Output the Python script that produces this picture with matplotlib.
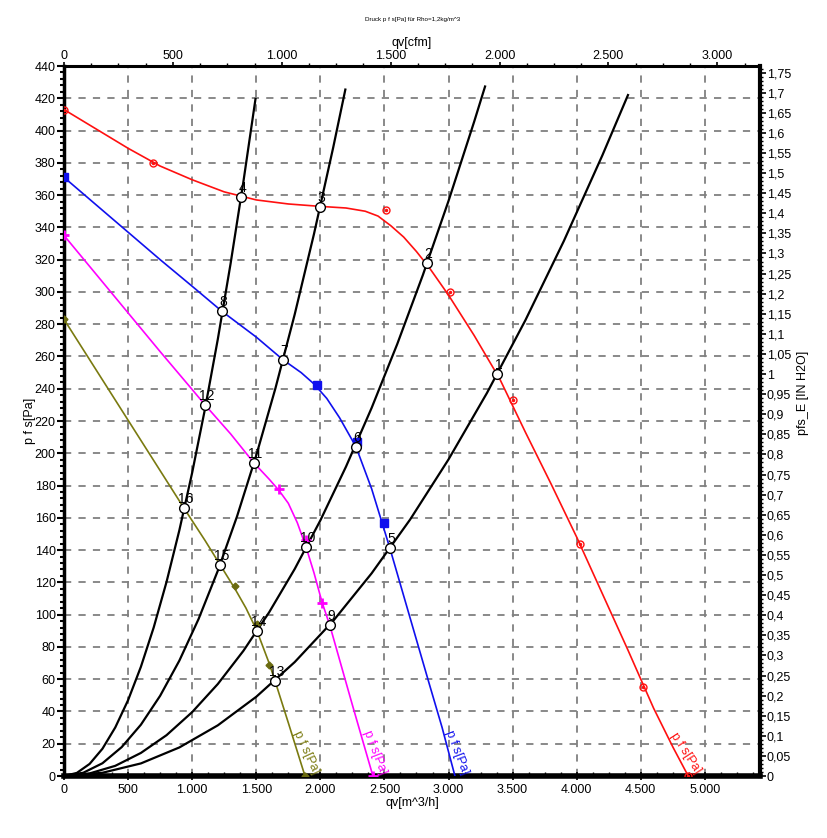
import numpy as np
import matplotlib
matplotlib.use("Agg")
import matplotlib.pyplot as plt
from matplotlib.ticker import MultipleLocator, FuncFormatter

plt.rcParams['font.family'] = ['Liberation Sans', 'DejaVu Sans']

# ---------------- data ----------------
# fan curves p_fs [Pa] vs qv [m^3/h]
red_x = [0, 250, 500, 750, 1000, 1250, 1500, 1750, 2000, 2200, 2350, 2450, 2550, 2650,
         2750, 2850, 3000, 3200, 3400, 3600, 3800, 4000, 4200, 4400, 4600, 4750, 4870]
red_y = [413, 401, 389, 378, 369.5, 362, 357, 354.5, 353, 352, 350, 347, 341, 334,
         325, 315, 298, 273, 246, 213, 181, 148, 113, 78, 42, 18, 0]
blue_x = [0, 250, 500, 750, 1000, 1232, 1500, 1708, 1850, 1950, 2050, 2150, 2278, 2400,
          2543, 2700, 2850, 2950, 3050]
blue_y = [371, 354, 337, 320, 303.5, 288, 272, 258, 250, 243, 234, 222, 204, 178,
          141, 98, 57, 30, 0]
mag_x = [0, 250, 500, 750, 1000, 1100, 1300, 1482, 1600, 1677, 1750, 1820, 1888, 1950,
         2012, 2075, 2150, 2250, 2330, 2410]
mag_y = [335, 311, 287, 263, 239.5, 230, 212, 194, 184, 177, 169, 157, 142, 126,
         108, 93, 72, 44, 22, 0]
oli_x = [0, 300, 600, 936, 1100, 1217, 1334, 1420, 1505, 1600, 1646, 1750, 1880]
oli_y = [283, 245.5, 208, 166, 146, 131, 116, 104, 90, 70, 59, 33, 0]

# measured points on the fan curves
red_mk_x = [0, 694, 1390, 2512, 3011, 3502, 4025, 4516, 4870]
red_mk_y = [413, 380, 359, 351, 300, 233, 144, 55, 0]
blue_mk_x = [0, 1973, 2285, 2496]
blue_mk_y = [371, 242, 207, 157]
mag_mk_x = [0, 1677, 1888, 2012, 2410]
mag_mk_y = [335, 178, 146, 107, 0]
oli_mk_x = [0, 1334, 1505, 1599, 1880]
oli_mk_y = [283, 118, 94, 69, 0]

# system curves (black)
sysA_x = [0, 100, 200, 300, 400, 500, 600, 700, 800, 900, 1000, 1100, 1200, 1300, 1400, 1494]
sysA_y = [0, 1.9, 7.5, 16.9, 30.1, 47.0, 67.7, 92.1, 120.3, 152.3, 188.0, 227.5, 270.7,
          317.7, 368.5, 419.6]
sysB_x = [0, 150, 300, 450, 600, 750, 900, 1050, 1200, 1350, 1500, 1650, 1800, 1950,
          2100, 2195]
sysB_y = [0, 2.0, 7.9, 17.9, 31.8, 49.7, 71.5, 97.3, 127.2, 160.9, 198.7, 240.4, 286.1,
          335.8, 389.4, 425.4]
sysC_x = [0, 200, 400, 600, 800, 1000, 1200, 1400, 1600, 1800, 2000, 2200, 2400, 2600,
          2800, 3000, 3200, 3285]
sysC_y = [0, 1.6, 6.3, 14.3, 25.3, 39.6, 57.0, 77.6, 101.4, 128.3, 158.4, 191.7, 228.1,
          267.7, 310.5, 356.4, 405.5, 427.3]
sysD_x = [0, 300, 600, 900, 1200, 1500, 1800, 2100, 2400, 2700, 3000, 3300, 3600, 3900,
          4200, 4400]
sysD_y = [0, 2.0, 7.8, 17.7, 31.4, 49.1, 70.6, 96.1, 125.6, 158.9, 196.2, 237.4, 282.5,
          331.6, 384.6, 422.0]

# operating points
op_labels = ['1', '2', '3', '4', '5', '6', '7', '8', '9', '10', '11', '12', '13', '14', '15', '16']
op_x = [3378, 2831, 1997, 1381, 2543, 2278, 1708, 1232, 2075, 1888, 1482, 1100, 1646, 1505, 1217, 936]
op_y = [249, 318, 352.7, 359, 141, 204, 258, 288, 93.4, 141.7, 193.7, 230, 58.8, 89.7, 130.6, 166]

XMAX = 5430
YMAX = 440
PA_PER_INH2O = 249.089
CFM_PER_M3H = 0.588578

# ---------------- figure ----------------
fig = plt.figure(figsize=(8.27, 8.38), dpi=100)
W, H = 827, 838
L, R, T, B = 64, 760, 66, 776
ax = fig.add_axes([L / W, 1 - B / H, (R - L) / W, (B - T) / H])
ax.set_xlim(0, XMAX)
ax.set_ylim(0, YMAX)

def thou(v, pos=None):
    v = int(round(v))
    return f"{v:,}".replace(",", ".")

def inh2o(v, pos=None):
    s = f"{v:.2f}".rstrip("0").rstrip(".")
    return s.replace(".", ",")

ax.xaxis.set_major_locator(MultipleLocator(500))
ax.xaxis.set_minor_locator(MultipleLocator(125))
ax.xaxis.set_major_formatter(FuncFormatter(thou))
ax.yaxis.set_major_locator(MultipleLocator(20))
ax.yaxis.set_minor_locator(MultipleLocator(4))
ax.tick_params(axis='y', which='major', direction='out', length=5, width=1.5, labelsize=9, pad=1)
ax.tick_params(axis='y', which='minor', direction='out', length=3, width=1.5)
ax.tick_params(axis='x', which='major', direction='inout', length=6, width=1.2, labelsize=9, pad=3)
ax.tick_params(axis='x', which='minor', direction='in', length=3, width=1.0)

ax.grid(True, which='major', color='#808080', linestyle=(0, (4, 4)), linewidth=1.3)
ax.set_axisbelow(True)

for s, lw in [('left', 2.5), ('bottom', 4), ('top', 2.2), ('right', 3)]:
    ax.spines[s].set_linewidth(lw)

# system curves
for xs, ys in [(sysA_x, sysA_y), (sysB_x, sysB_y), (sysC_x, sysC_y), (sysD_x, sysD_y)]:
    ax.plot(xs, ys, color='black', lw=1.6, zorder=3)

# fan curves
ax.plot(red_x, red_y, color='#ff1010', lw=1.2, zorder=4)
ax.plot(blue_x, blue_y, color='#1010ee', lw=1.2, zorder=4)
ax.plot(mag_x, mag_y, color='#ff00ff', lw=1.2, zorder=4)
ax.plot(oli_x, oli_y, color='#7a7a10', lw=1.2, zorder=4)

ax.plot(red_mk_x, red_mk_y, ls='none', marker='o', ms=5, mfc='none', mec='#ff1010', mew=1.0, zorder=5)
ax.plot(red_mk_x, red_mk_y, ls='none', marker='.', ms=3, color='#ff1010', zorder=5)
ax.plot(blue_mk_x, blue_mk_y, ls='none', marker='s', ms=6, color='#1010ee', zorder=5)
ax.plot(mag_mk_x, mag_mk_y, ls='none', marker='+', ms=7, mew=2, color='#ff00ff', zorder=5)
ax.plot(oli_mk_x, oli_mk_y, ls='none', marker='D', ms=3.5, color='#6b6b10', zorder=5)

# operating points
ax.plot(op_x, op_y, ls='none', marker='o', ms=7, mfc='white', mec='black', mew=1.0, zorder=6)
for lab, x, y in zip(op_labels, op_x, op_y):
    ax.annotate(lab, (x, y), xytext=(1, 1.5), textcoords='offset points',
                ha='center', va='bottom', fontsize=10, color='black', zorder=7)

# rotated fan curve labels at the bottom
for xe, col, rot in [(oli_x[-1], '#7a7a10', -65), (mag_x[-1], '#ff00ff', -69),
                     (blue_x[-1], '#1010ee', -69), (red_x[-1], '#ff1010', -57)]:
    ax.text(xe + 40, 0, 'p f s[Pa]', color=col, fontsize=9, rotation=rot,
            rotation_mode='anchor', ha='right', va='bottom', zorder=7)

ax.set_xlabel('qv[m^3/h]', fontsize=9)
ax.xaxis.set_label_coords(0.5, -(797 - B) / (B - T))
ax.set_ylabel('p f s[Pa]', fontsize=9)
ax.yaxis.set_label_coords(-(L - 36) / (R - L), 0.5)

# right axis (in H2O)
ax2 = ax.twinx()
ax2.set_ylim(0, YMAX / PA_PER_INH2O)
ax2.yaxis.set_major_locator(MultipleLocator(0.05))
ax2.yaxis.set_minor_locator(MultipleLocator(0.01))
ax2.yaxis.set_major_formatter(FuncFormatter(inh2o))
ax2.tick_params(axis='y', which='major', direction='out', length=4, width=1.2, labelsize=9, pad=1)
ax2.tick_params(axis='y', which='minor', direction='out', length=2.5, width=1.0)
ax2.set_ylabel('pfs_E [IN H2O]', fontsize=9)
ax2.yaxis.set_label_coords(1 + (797 - R) / (R - L), 0.54)
for s in ax2.spines.values():
    s.set_visible(False)

# top axis (cfm)
ax3 = ax.twiny()
ax3.set_xlim(0, XMAX * CFM_PER_M3H)
ax3.xaxis.set_major_locator(MultipleLocator(500))
ax3.xaxis.set_minor_locator(MultipleLocator(125))
ax3.xaxis.set_major_formatter(FuncFormatter(thou))
ax3.tick_params(axis='x', which='major', direction='out', length=3, width=1.2, labelsize=9, pad=0)
ax3.tick_params(axis='x', which='minor', direction='out', length=2.5, width=1.0)
ax3.set_xlabel('qv[cfm]', fontsize=9)
ax3.xaxis.set_label_coords(0.5, (B - 46) / (B - T))
for s in ax3.spines.values():
    s.set_visible(False)

fig.text(413 / W, 1 - 20 / H, 'Druck p f s[Pa] für Rho=1,2kg/m^3', fontsize=4.5,
         ha='center', va='center')

fig.savefig('out.png', dpi=100)
